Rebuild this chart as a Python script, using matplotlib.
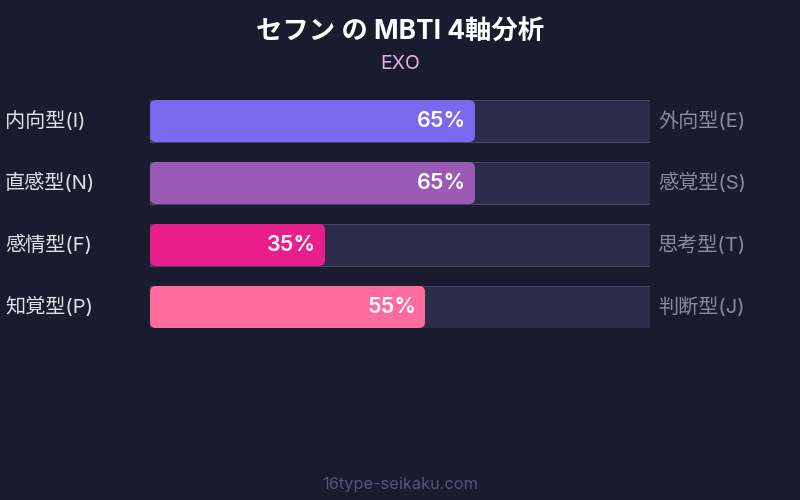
import matplotlib
matplotlib.use("Agg")
import matplotlib.pyplot as plt
from matplotlib.patches import FancyBboxPatch

# データ
title = "セフン の MBTI 4軸分析"
subtitle = "EXO"
left_labels = ["内向型(I)", "直感型(N)", "感情型(F)", "知覚型(P)"]
right_labels = ["外向型(E)", "感覚型(S)", "思考型(T)", "判断型(J)"]
values = [65, 65, 35, 55]
bar_colors = ["#7b68ee", "#9b59b6", "#e91e8c", "#ff6b9d"]

BG = "#1a1b2e"
TRACK = "#2d2b4a"
EDGE = "#45456a"
FONT = ["Inter", "Noto Sans CJK JP", "DejaVu Sans"]
plt.rcParams["font.family"] = FONT

W, H = 800, 500
fig = plt.figure(figsize=(8, 5), dpi=100, facecolor=BG)

# バー用の軸 (x: 150-650px, y: 100-328px)
ax = fig.add_axes([150 / W, (H - 328) / H, 500 / W, 228 / H])
ax.set_facecolor("none")
half = 21 / 62
n = len(values)
ax.set_xlim(0, 100)
ax.set_ylim(n - 1 + half, -half)
ax.axis("off")

ypos = list(range(n))
ax.barh(ypos, [100] * n, height=2 * half, left=0, color=TRACK,
        edgecolor=EDGE, linewidth=0.8)

r_x = 1.2
aspect = (6 / 62) / r_x
for y, v, c in zip(ypos, values, bar_colors):
    ax.add_patch(FancyBboxPatch((0, y - half), v, 2 * half,
                                boxstyle=f"round,pad=0,rounding_size={r_x}",
                                mutation_aspect=aspect, facecolor=c,
                                edgecolor="none", zorder=3))
    ax.text(v - 1.8, y, f"{v}%", ha="right", va="center", color="white",
            fontsize=15.5, fontweight="semibold", zorder=4)

# ラベル
for y, lt, rt in zip(ypos, left_labels, right_labels):
    ax.annotate(lt, xy=(0, y), xycoords="data", xytext=(-145, 0),
                textcoords="offset pixels", ha="left", va="center",
                color="#e0e0e8", fontsize=14.5)
    ax.annotate(rt, xy=(100, y), xycoords="data", xytext=(8, 0),
                textcoords="offset pixels", ha="left", va="center",
                color="#8a8a9e", fontsize=14.5)

fig.text(0.5, 1 - 33 / H, title, ha="center", va="center", color="white",
         fontsize=19, fontweight="bold")
fig.text(0.5, 1 - 64 / H, subtitle, ha="center", va="center",
         color="#e8b4e8", fontsize=14)
fig.text(0.5, 1 - 484 / H, "16type-seikaku.com", ha="center", va="center",
         color="#55557a", fontsize=11.8)

fig.savefig("out.png", dpi=100, facecolor=BG)
